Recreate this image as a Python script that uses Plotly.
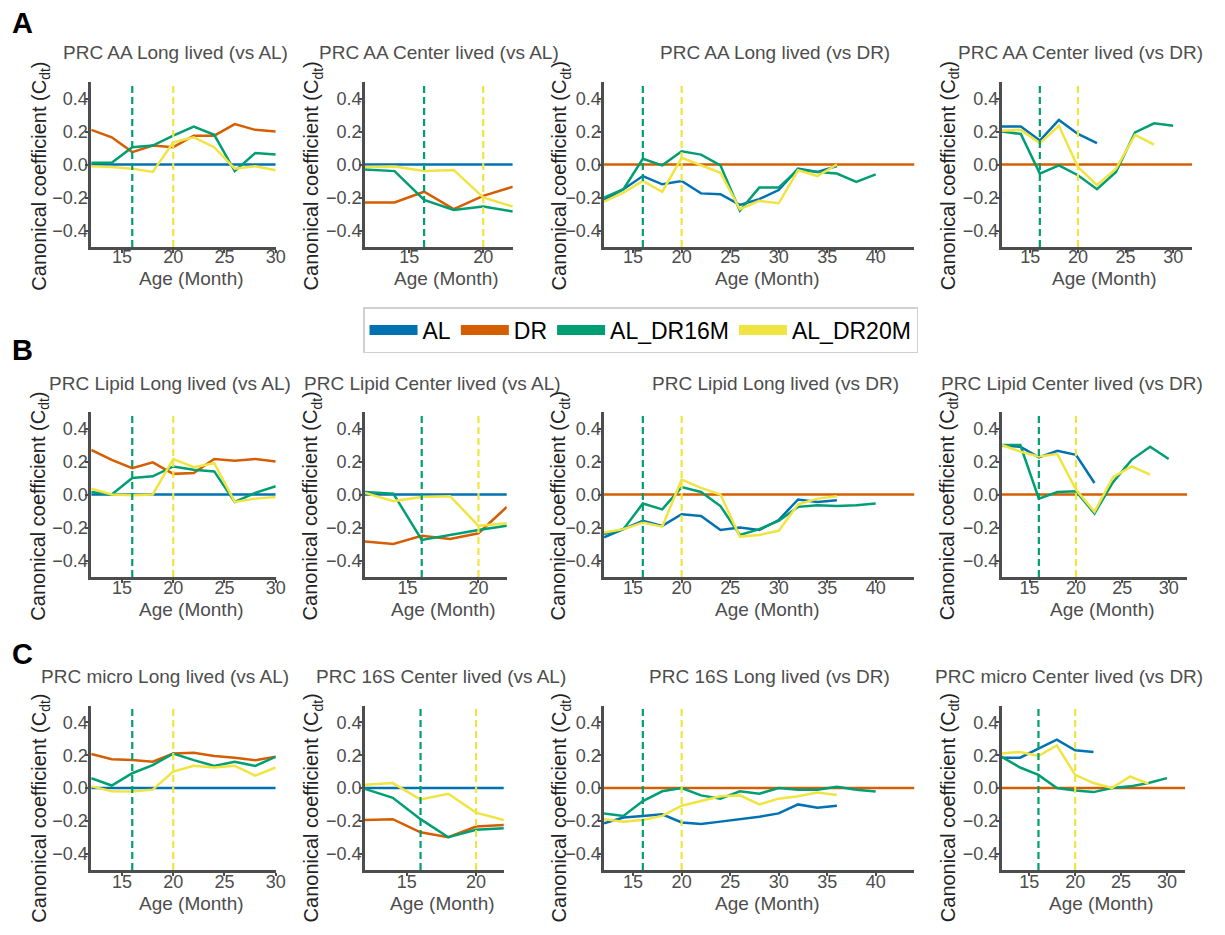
import plotly.graph_objects as go

# ---------------- data ----------------
M12_22 = [12, 14, 16, 18, 20, 22]
M12_28 = [12, 14, 16, 18, 20, 22, 24, 26, 28]
M12_30 = [12, 14, 16, 18, 20, 22, 24, 26, 28, 30]
M12_32 = [12, 14, 16, 18, 20, 22, 24, 26, 28, 30, 32]
M12_36 = [12, 14, 16, 18, 20, 22, 24, 26, 28, 30, 32, 34, 36]
M12_40 = [12, 14, 16, 18, 20, 22, 24, 26, 28, 30, 32, 34, 36, 38, 40]
M12_44 = [12, 14, 16, 18, 20, 22, 24, 26, 28, 30, 32, 34, 36, 38, 40, 42, 44]

SWITCH_16M = 16
SWITCH_20M = 20

# Row A (AA)
A1_AL = [0.0] * 10
A1_DR = [0.21, 0.165, 0.075, 0.115, 0.105, 0.175, 0.175, 0.245, 0.21, 0.20]
A1_16 = [0.01, 0.01, 0.105, 0.115, 0.175, 0.23, 0.18, -0.04, 0.07, 0.06]
A1_20 = [-0.01, -0.015, -0.025, -0.045, 0.135, 0.165, 0.105, -0.025, -0.01, -0.035]

A2_AL = [0.0] * 6
A2_DR = [-0.23, -0.23, -0.165, -0.27, -0.19, -0.135]
A2_16 = [-0.03, -0.04, -0.215, -0.275, -0.255, -0.285]
A2_20 = [-0.015, -0.012, -0.04, -0.033, -0.2, -0.255]

A3_AL = [-0.215, -0.15, -0.07, -0.12, -0.1, -0.175, -0.18, -0.245, -0.21, -0.155, -0.025, -0.045, -0.01]
A3_DR = [0.0] * 17
A3_16 = [-0.2, -0.15, 0.035, -0.005, 0.08, 0.06, -0.005, -0.28, -0.14, -0.14, -0.03, -0.045, -0.055, -0.105, -0.06]
A3_20 = [-0.225, -0.17, -0.1, -0.165, 0.04, -0.005, -0.05, -0.27, -0.22, -0.235, -0.035, -0.07, 0.0]

A4_AL = [0.23, 0.23, 0.145, 0.27, 0.185, 0.13]
A4_DR = [0.0] * 11
A4_16 = [0.2, 0.185, -0.055, -0.005, -0.065, -0.15, -0.045, 0.195, 0.25, 0.235]
A4_20 = [0.205, 0.21, 0.13, 0.235, -0.015, -0.125, -0.025, 0.18, 0.12]

# Row B (Lipid)
B1_AL = [0.0] * 10
B1_DR = [0.27, 0.21, 0.16, 0.195, 0.125, 0.13, 0.215, 0.205, 0.215, 0.2]
B1_16 = [0.015, 0.0, 0.1, 0.11, 0.17, 0.15, 0.14, -0.045, 0.01, 0.05]
B1_20 = [0.035, 0.0, -0.005, 0.0, 0.215, 0.165, 0.19, -0.045, -0.025, -0.015]

B2_AL = [0.0] * 6
B2_DR = [-0.285, -0.3, -0.25, -0.27, -0.235, -0.075]
B2_16 = [0.015, 0.005, -0.275, -0.245, -0.215, -0.19]
B2_20 = [0.01, -0.04, -0.015, -0.01, -0.19, -0.175]

B3_AL = [-0.26, -0.21, -0.16, -0.19, -0.12, -0.13, -0.215, -0.2, -0.215, -0.155, -0.03, -0.045, -0.035]
B3_DR = [0.0] * 17
B3_16 = [-0.24, -0.21, -0.055, -0.09, 0.045, 0.015, -0.07, -0.245, -0.21, -0.16, -0.075, -0.065, -0.07, -0.065, -0.055]
B3_20 = [-0.23, -0.21, -0.17, -0.195, 0.09, 0.04, 0.0, -0.255, -0.245, -0.22, -0.06, -0.025, -0.01]

B4_AL = [0.295, 0.29, 0.225, 0.265, 0.24, 0.07]
B4_DR = [0.0] * 11
B4_16 = [0.3, 0.3, -0.025, 0.015, 0.02, -0.115, 0.075, 0.21, 0.29, 0.215]
B4_20 = [0.3, 0.26, 0.23, 0.245, 0.03, -0.105, 0.105, 0.17, 0.12]

# Row C (micro / 16S)
C1_AL = [0.0] * 10
C1_DR = [0.207, 0.175, 0.17, 0.16, 0.21, 0.215, 0.195, 0.185, 0.17, 0.19]
C1_16 = [0.06, 0.015, 0.09, 0.14, 0.21, 0.17, 0.135, 0.16, 0.135, 0.19]
C1_20 = [0.01, -0.02, -0.022, -0.01, 0.1, 0.135, 0.125, 0.135, 0.075, 0.125]

C2_AL = [0.0] * 6
C2_DR = [-0.195, -0.19, -0.27, -0.3, -0.235, -0.225]
C2_16 = [-0.005, -0.06, -0.19, -0.3, -0.255, -0.245]
C2_20 = [0.02, 0.03, -0.07, -0.035, -0.15, -0.195]

C3_AL = [-0.215, -0.18, -0.17, -0.16, -0.21, -0.22, -0.205, -0.19, -0.175, -0.155, -0.1, -0.12, -0.108]
C3_DR = [0.0] * 17
C3_16 = [-0.155, -0.17, -0.08, -0.02, 0.0, -0.045, -0.065, -0.02, -0.035, 0.0, -0.01, -0.01, 0.008, -0.01, -0.022]
C3_20 = [-0.19, -0.205, -0.195, -0.17, -0.108, -0.08, -0.05, -0.045, -0.1, -0.065, -0.05, -0.028, -0.042]

C4_AL = [0.185, 0.185, 0.24, 0.295, 0.23, 0.22]
C4_DR = [0.0] * 11
C4_16 = [0.19, 0.125, 0.08, 0.0, -0.015, -0.025, 0.0, 0.01, 0.03, 0.06]
C4_20 = [0.21, 0.22, 0.195, 0.26, 0.08, 0.03, 0.0, 0.07, 0.025]

TITLES = [
    ["PRC AA Long lived (vs AL)", "PRC AA Center lived (vs AL)", "PRC AA Long lived (vs DR)", "PRC AA Center lived (vs DR)"],
    ["PRC Lipid Long lived (vs AL)", "PRC Lipid Center lived (vs AL)", "PRC Lipid Long lived (vs DR)", "PRC Lipid Center lived (vs DR)"],
    ["PRC micro Long lived (vs AL)", "PRC 16S Center lived (vs AL)", "PRC 16S Long lived (vs DR)", "PRC micro Center lived (vs DR)"],
]
ROW_LETTERS = ["A", "B", "C"]
GROUPS = ["AL", "DR", "AL_DR16M", "AL_DR20M"]
COLORS = {"AL": "#0072B2", "DR": "#D55E00", "AL_DR16M": "#009E73", "AL_DR20M": "#F0E442"}

PANELS = [
    [
        {"AL": (M12_30, A1_AL), "DR": (M12_30, A1_DR), "AL_DR16M": (M12_30, A1_16), "AL_DR20M": (M12_30, A1_20)},
        {"AL": (M12_22, A2_AL), "DR": (M12_22, A2_DR), "AL_DR16M": (M12_22, A2_16), "AL_DR20M": (M12_22, A2_20)},
        {"AL": (M12_36, A3_AL), "DR": (M12_44, A3_DR), "AL_DR16M": (M12_40, A3_16), "AL_DR20M": (M12_36, A3_20)},
        {"AL": (M12_22, A4_AL), "DR": (M12_32, A4_DR), "AL_DR16M": (M12_30, A4_16), "AL_DR20M": (M12_28, A4_20)},
    ],
    [
        {"AL": (M12_30, B1_AL), "DR": (M12_30, B1_DR), "AL_DR16M": (M12_30, B1_16), "AL_DR20M": (M12_30, B1_20)},
        {"AL": (M12_22, B2_AL), "DR": (M12_22, B2_DR), "AL_DR16M": (M12_22, B2_16), "AL_DR20M": (M12_22, B2_20)},
        {"AL": (M12_36, B3_AL), "DR": (M12_44, B3_DR), "AL_DR16M": (M12_40, B3_16), "AL_DR20M": (M12_36, B3_20)},
        {"AL": (M12_22, B4_AL), "DR": (M12_32, B4_DR), "AL_DR16M": (M12_30, B4_16), "AL_DR20M": (M12_28, B4_20)},
    ],
    [
        {"AL": (M12_30, C1_AL), "DR": (M12_30, C1_DR), "AL_DR16M": (M12_30, C1_16), "AL_DR20M": (M12_30, C1_20)},
        {"AL": (M12_22, C2_AL), "DR": (M12_22, C2_DR), "AL_DR16M": (M12_22, C2_16), "AL_DR20M": (M12_22, C2_20)},
        {"AL": (M12_36, C3_AL), "DR": (M12_44, C3_DR), "AL_DR16M": (M12_40, C3_16), "AL_DR20M": (M12_36, C3_20)},
        {"AL": (M12_22, C4_AL), "DR": (M12_32, C4_DR), "AL_DR16M": (M12_30, C4_16), "AL_DR20M": (M12_28, C4_20)},
    ],
]
X_RANGES = [[12, 30], [12, 22], [12, 44], [12, 32]]

# ---------------- layout geometry (pixels) ----------------
W, H = 1225, 935
COL_PX = [
    [(92, 278), (368, 517), (609, 922), (1010, 1202)],
    [(92, 278), (368, 511), (609, 922), (1010, 1197)],
    [(92, 278), (368, 508), (609, 922), (1010, 1195)],
]
ROW_PX = [(82, 247), (412, 577), (706, 870)]
TITLE_X = [[177, 443, 781, 1089], [171, 436, 782, 1081], [166, 445, 776, 1078]]
TITLE_Y = [53, 383, 676]
YTITLE_X = [40, 315, 565, 957]
YTITLE_Y = [176, 506, 808]
XTITLE_Y = [279, 609, 903]
XTICK_STANDOFF = [-11, -10, -9]
LETTER_Y = [23, 350, 654]

GRAY = "#4d4d4d"
FONT = "Liberation Sans, Arial, sans-serif"

fig = go.Figure()
layout = dict(
    width=W, height=H, margin=dict(l=0, r=0, t=0, b=0),
    paper_bgcolor="white", plot_bgcolor="white",
    font=dict(family=FONT, color=GRAY),
    showlegend=True,
)
annotations = []

idx = 0
for r in range(3):
    for c in range(4):
        idx += 1
        xa = "x" if idx == 1 else f"x{idx}"
        ya = "y" if idx == 1 else f"y{idx}"
        xk = "xaxis" if idx == 1 else f"xaxis{idx}"
        yk = "yaxis" if idx == 1 else f"yaxis{idx}"
        x0, x1 = COL_PX[r][c]
        y0, y1 = ROW_PX[r]
        layout[xk] = dict(
            domain=[x0 / W, x1 / W], anchor=ya, range=X_RANGES[c],
            showline=True, linecolor=GRAY, linewidth=2.5, mirror=False,
            ticks="outside", ticklen=3, tickwidth=1.5, tickcolor=GRAY,
            showgrid=False, zeroline=False, tick0=0, dtick=5,
            ticklabelstandoff=XTICK_STANDOFF[r],
            tickfont=dict(size=18, color=GRAY, family=FONT),
        )
        layout[yk] = dict(
            domain=[1 - y1 / H, 1 - y0 / H], anchor=xa, range=[-0.5, 0.5],
            showline=True, linecolor=GRAY, linewidth=2.5, mirror=False,
            ticks="outside", ticklen=3, tickwidth=1.5, tickcolor=GRAY,
            showgrid=False, zeroline=False,
            tickvals=[-0.4, -0.2, 0.0, 0.2, 0.4], tickformat=".1f",
            ticklabelstandoff=-6,
            tickfont=dict(size=18, color=GRAY, family=FONT),
        )
        panel = PANELS[r][c]
        for g in GROUPS:
            xs, ys = panel[g]
            fig.add_trace(go.Scatter(
                x=xs, y=ys, mode="lines", xaxis=xa, yaxis=ya,
                line=dict(color=COLORS[g], width=2.5), showlegend=False,
                hoverinfo="skip",
            ))
        for sw, g in [(SWITCH_16M, "AL_DR16M"), (SWITCH_20M, "AL_DR20M")]:
            fig.add_trace(go.Scatter(
                x=[sw, sw], y=[-0.5, 0.5], mode="lines", xaxis=xa, yaxis=ya,
                line=dict(color=COLORS[g], width=2.2, dash="7px,4px"),
                showlegend=False, hoverinfo="skip",
            ))
        annotations.append(dict(
            text=TITLES[r][c], x=TITLE_X[r][c] / W, y=1 - TITLE_Y[r] / H,
            xref="paper", yref="paper", showarrow=False,
            xanchor="center", yanchor="middle",
            font=dict(size=19, color=GRAY, family=FONT),
        ))
        annotations.append(dict(
            text="Canonical coefficient (C<sub>dt</sub>)",
            x=YTITLE_X[c] / W, y=1 - YTITLE_Y[r] / H,
            xref="paper", yref="paper", showarrow=False, textangle=-90,
            xanchor="center", yanchor="middle",
            font=dict(size=20, color="#222222", family=FONT),
        ))
        annotations.append(dict(
            text="Age (Month)", x=((x0 + x1) / 2 + 8) / W, y=1 - XTITLE_Y[r] / H,
            xref="paper", yref="paper", showarrow=False,
            xanchor="center", yanchor="middle",
            font=dict(size=19, color=GRAY, family=FONT),
        ))
    annotations.append(dict(
        text=f"<b>{ROW_LETTERS[r]}</b>", x=23 / W, y=1 - LETTER_Y[r] / H,
        xref="paper", yref="paper", showarrow=False,
        xanchor="center", yanchor="middle",
        font=dict(size=29, color="black", family=FONT),
    ))

# legend entries
for g in GROUPS:
    fig.add_trace(go.Scatter(
        x=[None], y=[None], mode="lines", name=g,
        line=dict(color=COLORS[g], width=11), showlegend=True,
    ))

layout["annotations"] = annotations
layout["legend"] = dict(
    orientation="h", x=366 / W, y=1 - 307 / H, xanchor="left", yanchor="top",
    bordercolor="#d0d0d0", borderwidth=1.5, bgcolor="white",
    font=dict(size=23, color="black", family=FONT),
    itemwidth=48, tracegroupgap=0,
)
fig.update_layout(**layout)
fig.write_html("out.html")
